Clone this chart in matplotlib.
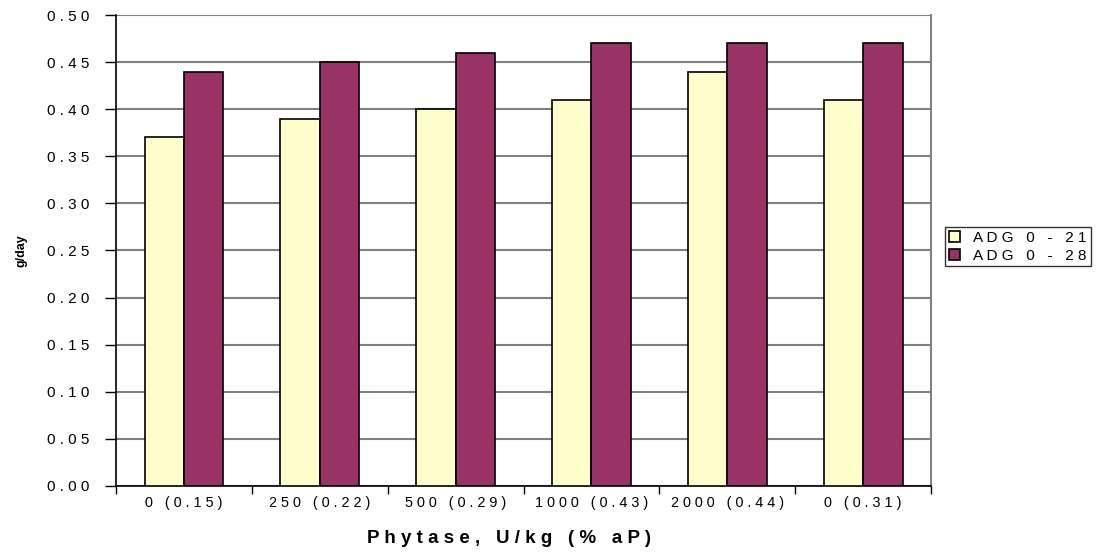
import numpy as np
import matplotlib.pyplot as plt
from matplotlib.ticker import FixedLocator, MultipleLocator

categories = ["0 (0.15)", "250 (0.22)", "500 (0.29)", "1000 (0.43)", "2000 (0.44)", "0 (0.31)"]
adg_0_21 = [0.37, 0.39, 0.40, 0.41, 0.44, 0.41]
adg_0_28 = [0.44, 0.45, 0.46, 0.47, 0.47, 0.47]
series_names = ["ADG 0 - 21", "ADG 0 - 28"]


def spaced(s):
    # mimic the wide letter spacing of the original
    return " ".join(s)


plt.rcParams["font.family"] = ["Liberation Sans", "DejaVu Sans"]

fig = plt.figure(figsize=(11.08, 5.52), dpi=100)
ax = fig.add_axes([0.1047, 0.1196, 0.7356, 0.8532])

x = np.arange(len(categories))
w = 0.29
ax.bar(x - w / 2, adg_0_21, w, color="#FFFFCC", edgecolor="black", linewidth=1.2,
       label=spaced(series_names[0]), zorder=3)
ax.bar(x + w / 2, adg_0_28, w, color="#993366", edgecolor="black", linewidth=1.2,
       label=spaced(series_names[1]), zorder=3)

ax.set_xlim(-0.5, len(categories) - 0.5)
ax.set_ylim(0, 0.5)

ax.yaxis.set_major_locator(MultipleLocator(0.05))
ax.set_yticklabels([spaced(f"{v:.2f}") for v in ax.get_yticks()], fontsize=11)
ax.tick_params(axis="y", direction="out", length=8, width=1, pad=11)
ax.grid(axis="y", color="#808080", linewidth=1.5, zorder=0)

ax.xaxis.set_major_locator(FixedLocator(np.arange(-0.5, len(categories), 1.0)))
ax.xaxis.set_major_formatter(plt.NullFormatter())
ax.xaxis.set_minor_locator(FixedLocator(x))
ax.set_xticklabels([spaced(c) for c in categories], minor=True, fontsize=10.4)
ax.tick_params(axis="x", which="major", direction="out", length=6, width=1)
ax.tick_params(axis="x", which="minor", length=0, pad=7)

for side in ["left", "bottom"]:
    ax.spines[side].set_color("black")
    ax.spines[side].set_linewidth(1.2)
ax.spines["top"].set_visible(False)
ax.spines["right"].set_color("#808080")
ax.spines["right"].set_linewidth(1.5)

ax.set_xlabel(spaced("Phytase, U/kg (% aP)"), fontsize=13.5, fontweight="bold")
ax.xaxis.set_label_coords(0.482, -0.094)
ax.set_ylabel("g/day", fontsize=9, fontweight="bold", labelpad=14)

leg = fig.legend(loc="upper left", bbox_to_anchor=(945 / 1108, 1 - 227 / 552), fontsize=11,
                 frameon=True, fancybox=False, edgecolor="black", handlelength=0.7,
                 handleheight=0.7, handletextpad=0.9, borderpad=0.25, labelspacing=0.25,
                 borderaxespad=0)
leg.get_frame().set_linewidth(1.0)

fig.savefig("out.png", dpi=100)
